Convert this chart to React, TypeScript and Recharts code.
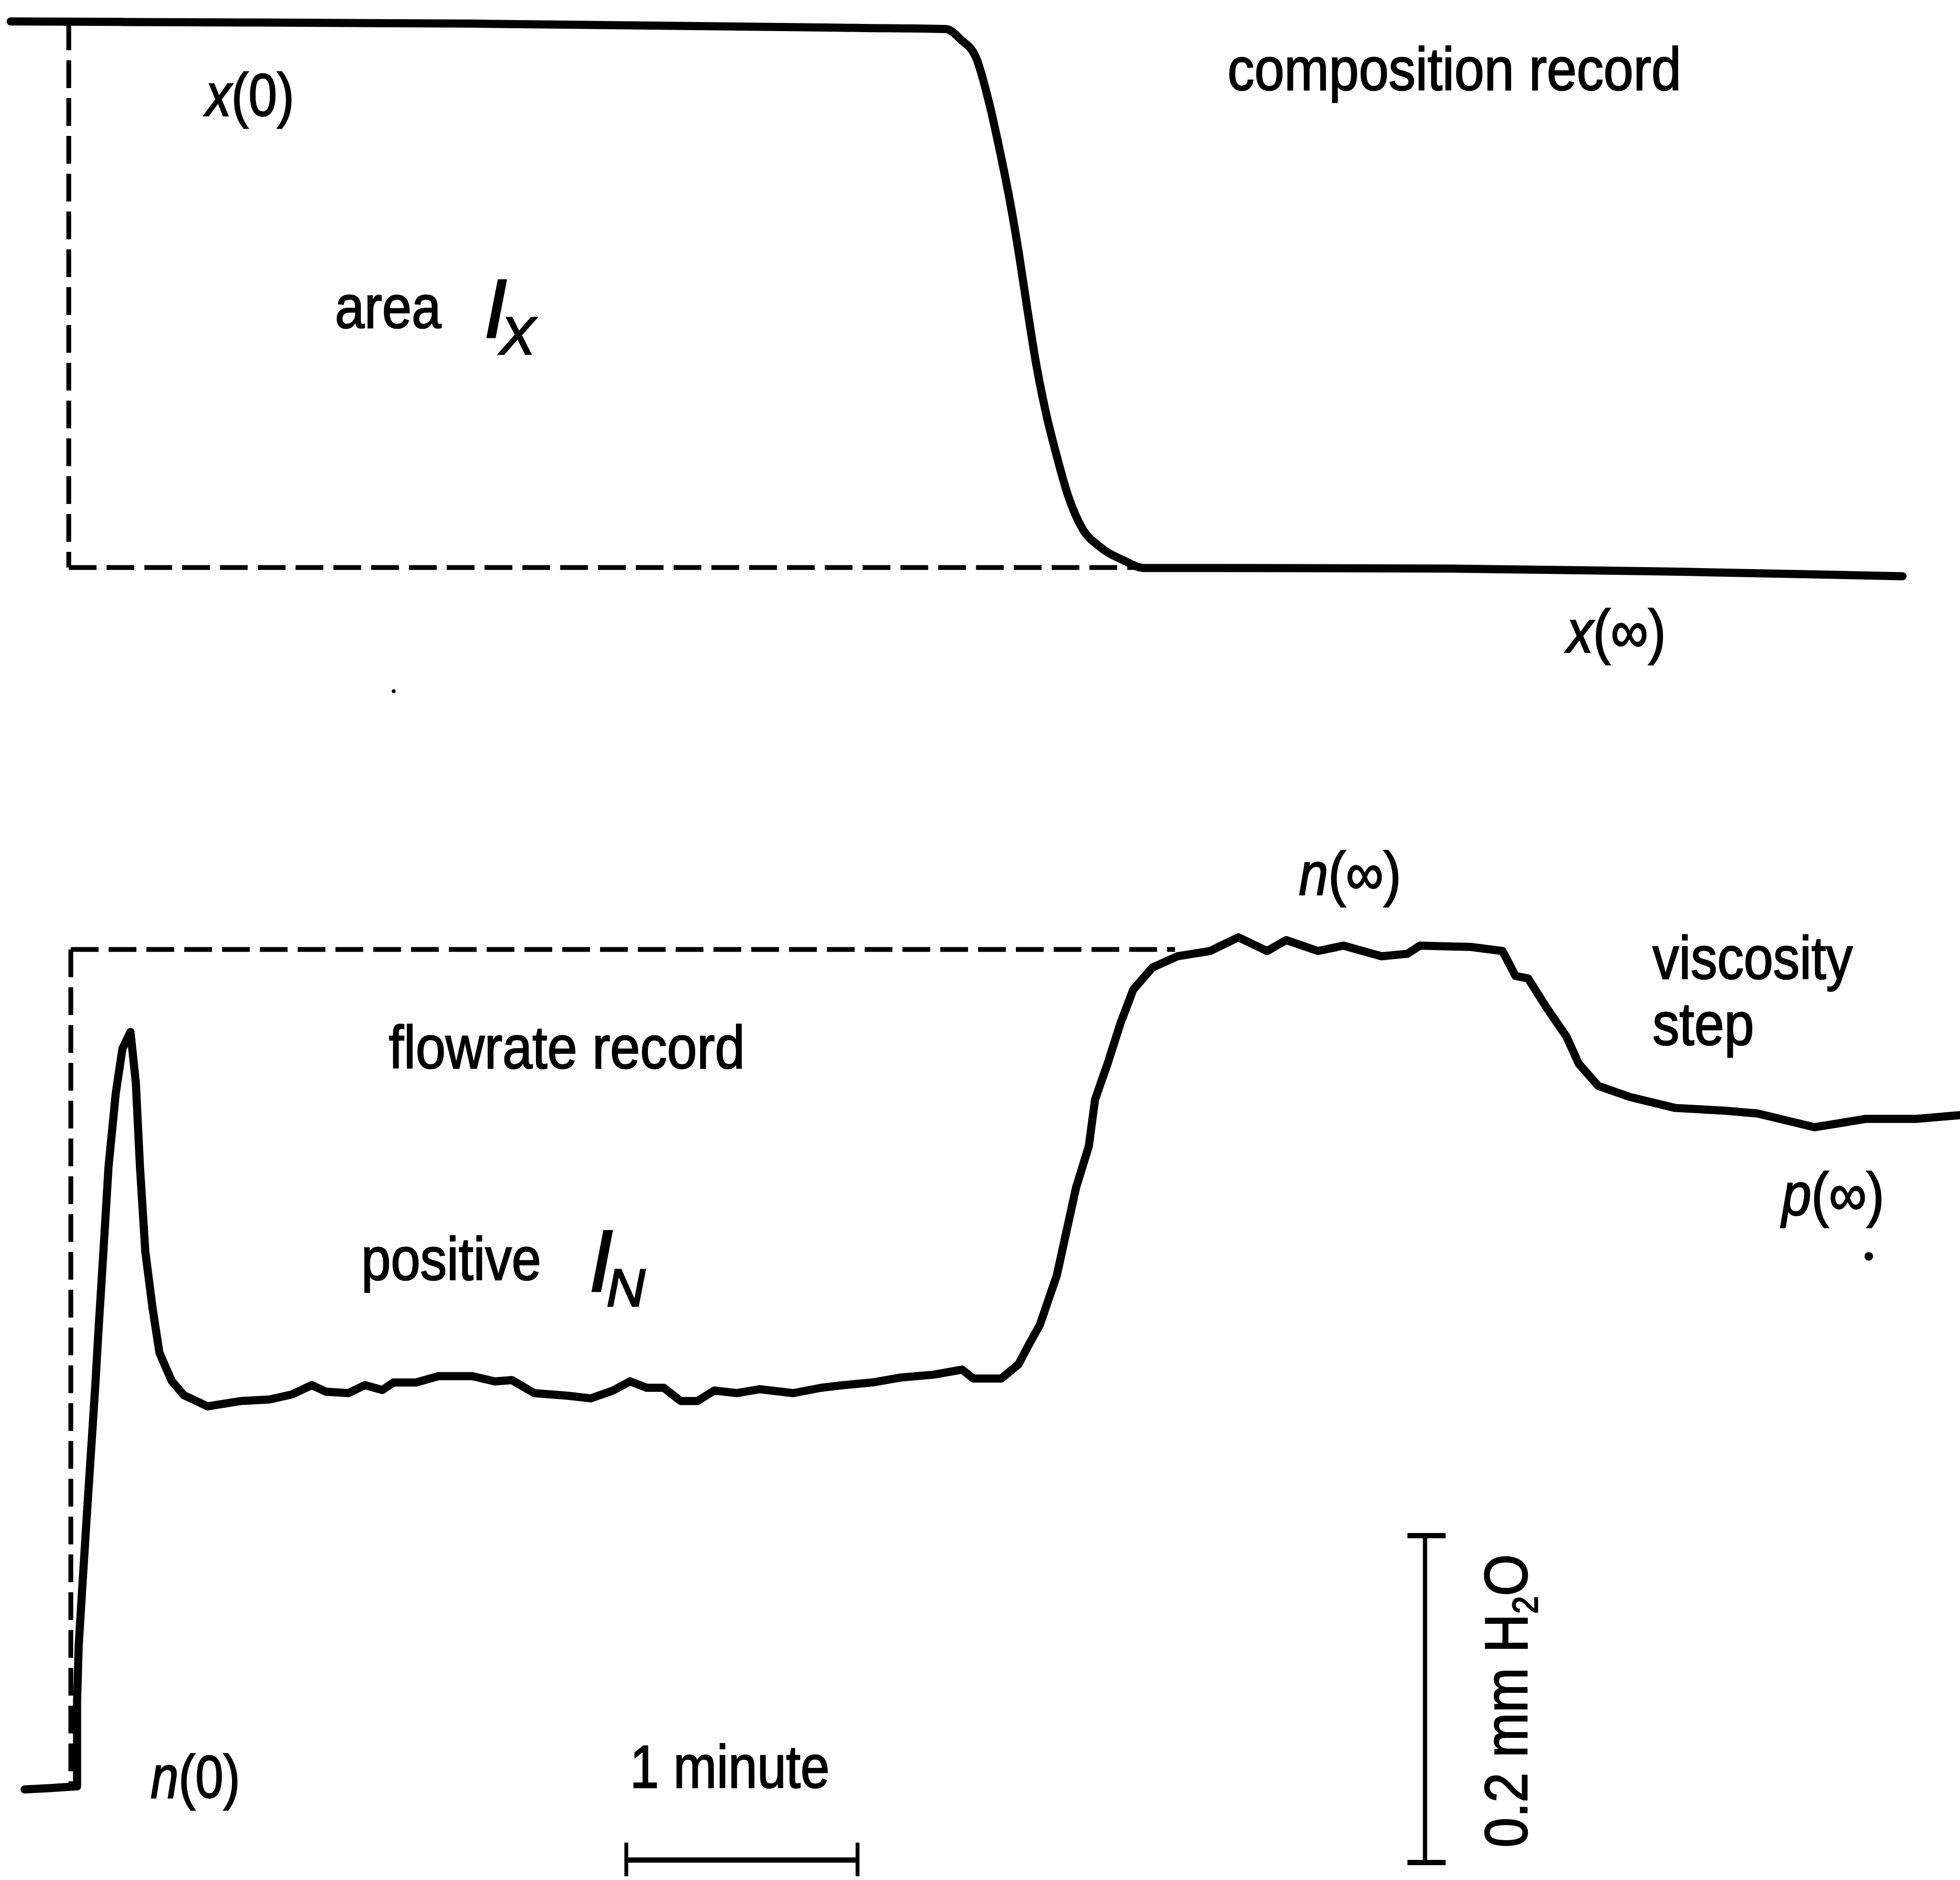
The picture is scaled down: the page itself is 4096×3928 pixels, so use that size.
import { LineChart, Line, XAxis, YAxis, ReferenceLine, ReferenceDot } from "recharts";

// time axis in minutes from the start of the step
// composition record normalised: x(0) = 1, x(inf) = 0
const compTime = [
  -0.251, 0.243, 1.739, 3.432, 3.795, 3.827, 3.854, 3.924, 3.978, 4.03, 4.07, 4.108, 4.146,
  4.184, 4.224, 4.274, 4.322, 4.381, 4.459, 4.557, 4.653, 4.962, 5.981, 7.0, 7.93,
];
const compValue = [
  1.002, 1.001, 0.998, 0.99, 0.988, 0.981, 0.97, 0.935, 0.856, 0.757, 0.672, 0.578, 0.472,
  0.372, 0.287, 0.202, 0.131, 0.073, 0.038, 0.014, -0.001, -0.001, -0.002, -0.008, -0.016,
];

// flowrate record, mm H2O above the starting level
const flowTime = [
  -0.191, -0.081, 0.036, 0.036, 0.043, 0.058, 0.081, 0.097, 0.116, 0.127, 0.15, 0.172,
  0.203, 0.232, 0.267, 0.29, 0.308, 0.331, 0.362, 0.392, 0.445, 0.497, 0.6, 0.746,
  0.868, 0.965, 1.051, 1.112, 1.209, 1.281, 1.356, 1.404, 1.502, 1.599, 1.745, 1.842,
  1.916, 2.013, 2.159, 2.257, 2.354, 2.427, 2.499, 2.573, 2.646, 2.719, 2.792, 2.89,
  2.987, 3.133, 3.254, 3.351, 3.474, 3.595, 3.741, 3.863, 3.912, 4.032, 4.107, 4.155,
  4.199, 4.273, 4.356, 4.411, 4.438, 4.492, 4.549, 4.603, 4.686, 4.795, 4.935, 5.058,
  5.182, 5.265, 5.402, 5.512, 5.677, 5.788, 5.843, 6.063, 6.2, 6.256, 6.311, 6.394,
  6.476, 6.53, 6.614, 6.751, 6.946, 7.165, 7.303, 7.55, 7.77, 7.989, 8.178,
];
const flowValue = [
  -0.0004, 0.0004, 0.0015, 0.0535, 0.0876, 0.1221, 0.1736, 0.208, 0.2496, 0.2769, 0.3289, 0.3805,
  0.4252, 0.4528, 0.4631, 0.4321, 0.3805, 0.3289, 0.2945, 0.2669, 0.2496, 0.2409, 0.234, 0.2373,
  0.2382, 0.2413, 0.247, 0.243, 0.2421, 0.247, 0.244, 0.2486, 0.2486, 0.2525, 0.2525, 0.2493,
  0.2501, 0.2421, 0.2405, 0.2389, 0.2437, 0.2493, 0.2454, 0.2454, 0.2373, 0.2373, 0.2437, 0.2421,
  0.2445, 0.2421, 0.2454, 0.247, 0.2486, 0.2516, 0.2534, 0.2565, 0.251, 0.251, 0.2597, 0.2726,
  0.2837, 0.3143, 0.3679, 0.3931, 0.4217, 0.4436, 0.4688, 0.4889, 0.5025, 0.5094, 0.5126, 0.521,
  0.5126, 0.5193, 0.5126, 0.5159, 0.5094, 0.5109, 0.5159, 0.5151, 0.5126, 0.4974, 0.4958, 0.4772,
  0.4604, 0.4436, 0.4301, 0.4233, 0.4166, 0.4149, 0.4132, 0.4048, 0.4099, 0.4099, 0.4122,
];

// reference levels of the two dashed boxes
const compBoxEnd = 4.62;
const flowBoxStart = 0.009;
const flowBoxLevel = 0.5136;
const flowBoxEnd = 4.784;

// scale bars: 1 minute and 0.2 mm H2O
const minuteBar = [2.411, 3.411];
const minuteBarLevel = -0.0436;
const minuteTicks = [-0.0329, -0.0535];
const pressureBarTime = 5.865;
const pressureBar = [-0.0451, 0.1549];
const pressureCaps = [5.789, 5.954];

const compWords = [
  { text: "area", t: 1.151, v: 0.44 },
  { text: "composition record", t: 5.011, v: 0.876 },
];
const compSymbols = [
  { sym: "x", arg: "0", t: 0.592, v: 0.829 },
  { sym: "x", arg: "∞", t: 6.478, v: -0.156 },
];
const compIntegral = { sym: "I", sub: "X", t: 1.795, v: 0.422 };
const compSpecks = [{ t: 1.405, v: -0.227 }];

const flowWords = [
  { text: "flowrate record", t: 1.384, v: 0.4408 },
  { text: "positive", t: 1.265, v: 0.3115 },
  { text: "viscosity", t: 6.849, v: 0.4956 },
  { text: "step", t: 6.849, v: 0.4553 },
  { text: "1 minute", t: 2.427, v: 0.0008 },
];
const flowSymbols = [
  { sym: "n", arg: "0", t: 0.354, v: -0.0054 },
  { sym: "n", arg: "∞", t: 5.319, v: 0.5471 },
  { sym: "p", arg: "∞", t: 7.408, v: 0.3511 },
];
const flowIntegral = { sym: "I", sub: "N", t: 2.249, v: 0.3044 };
const flowSpecks = [{ t: 7.784, v: 0.3258 }];
const pressureLabel = { t: 6.305, v: 0.0538 };

const compData = compTime.map((t, i) => ({ t, c: compValue[i] }));
const flowData = flowTime.map((t, i) => ({ t, p: flowValue[i] }));

const W = 4096;
const H = 3928;
const FONT = '"Liberation Sans", Arial, Helvetica, sans-serif';
const TEXT_SIZE = 126;
const TEXT_STROKE = 2.5;
const LINE_W = 17;
const DASH_W = 10;
const DASH = "58 21";

const textWidth: Record<string, number> = {
  area: 222,
  "composition record": 948,
  "flowrate record": 744,
  positive: 376,
  viscosity: 418,
  step: 212,
  "1 minute": 417,
  "x(0)": 185,
  "x(∞)": 207,
  "n(0)": 187,
  "n(∞)": 214,
  "p(∞)": 214,
};

const wordShape = (text: string) => (props: any) => (
  <text
    x={props.cx}
    y={props.cy}
    fontFamily={FONT}
    fontSize={TEXT_SIZE}
    fill="#000"
    stroke="#000"
    strokeWidth={TEXT_STROKE}
    textLength={textWidth[text]}
    lengthAdjust="spacingAndGlyphs"
  >
    {text}
  </text>
);

const symbolShape = (sym: string, arg: string) => (props: any) => (
  <text
    x={props.cx}
    y={props.cy}
    fontFamily={FONT}
    fontSize={TEXT_SIZE}
    fill="#000"
    stroke="#000"
    strokeWidth={TEXT_STROKE}
    textLength={textWidth[`${sym}(${arg})`]}
    lengthAdjust="spacingAndGlyphs"
  >
    <tspan fontStyle="italic">{sym}</tspan>({arg})
  </text>
);

const integralShape = (sym: string, sub: string, big: number, dx: number, dy: number) => (props: any) => (
  <text x={props.cx} y={props.cy} fontFamily={FONT} fill="#000" stroke="#000" strokeWidth={3} fontStyle="italic">
    <tspan fontSize={big}>{sym}</tspan>
    <tspan fontSize={112} dx={dx} dy={dy}>
      {sub}
    </tspan>
  </text>
);

const pressureShape = (props: any) => (
  <text
    x={props.cx}
    y={props.cy}
    transform={`rotate(-90 ${props.cx} ${props.cy})`}
    textAnchor="middle"
    fontFamily={FONT}
    fontSize={TEXT_SIZE}
    fill="#000"
    stroke="#000"
    strokeWidth={TEXT_STROKE}
    textLength={613}
    lengthAdjust="spacingAndGlyphs"
  >
    0.2 mm H
    <tspan fontSize={74} dy={22}>
      2
    </tspan>
    <tspan dy={-22}>O</tspan>
  </text>
);

const App = () => {
  return (
    <div style={{ width: W, height: H, background: "#fff" }}>
      <style>{"body{margin:0;background:#fff}"}</style>
      <LineChart width={W} height={H} margin={{ top: 0, right: 0, bottom: 0, left: 0 }}>
        <XAxis type="number" dataKey="t" domain={[-0.2973, 8.1784]} hide allowDataOverflow />
        <YAxis yAxisId="comp" type="number" domain={[-2.4083, 1.0413]} hide allowDataOverflow />
        <YAxis yAxisId="flow" type="number" domain={[-0.0558, 1.0945]} hide allowDataOverflow />

        {/* dashed box of the composition record */}
        <ReferenceLine yAxisId="comp" segment={[{ x: 0, y: 1 }, { x: 0, y: 0 }]} stroke="#000" strokeWidth={DASH_W} strokeDasharray={DASH} />
        <ReferenceLine yAxisId="comp" segment={[{ x: 0, y: 0 }, { x: compBoxEnd, y: 0 }]} stroke="#000" strokeWidth={DASH_W} strokeDasharray={DASH} />

        {/* dashed box of the flowrate record */}
        <ReferenceLine yAxisId="flow" segment={[{ x: flowBoxStart, y: flowBoxLevel }, { x: flowBoxStart, y: 0 }]} stroke="#000" strokeWidth={DASH_W} strokeDasharray={DASH} />
        <ReferenceLine yAxisId="flow" segment={[{ x: flowBoxStart, y: flowBoxLevel }, { x: flowBoxEnd, y: flowBoxLevel }]} stroke="#000" strokeWidth={DASH_W} strokeDasharray={DASH} />

        {/* scale bars */}
        <ReferenceLine yAxisId="flow" segment={[{ x: minuteBar[0], y: minuteBarLevel }, { x: minuteBar[1], y: minuteBarLevel }]} stroke="#000" strokeWidth={11} />
        {minuteBar.map((t) => (
          <ReferenceLine key={`mt${t}`} yAxisId="flow" segment={[{ x: t, y: minuteTicks[0] }, { x: t, y: minuteTicks[1] }]} stroke="#000" strokeWidth={8} />
        ))}
        <ReferenceLine yAxisId="flow" segment={[{ x: pressureBarTime, y: pressureBar[0] }, { x: pressureBarTime, y: pressureBar[1] }]} stroke="#000" strokeWidth={9} />
        {pressureBar.map((v) => (
          <ReferenceLine key={`pc${v}`} yAxisId="flow" segment={[{ x: pressureCaps[0], y: v }, { x: pressureCaps[1], y: v }]} stroke="#000" strokeWidth={11} />
        ))}

        <Line
          yAxisId="comp"
          data={compData}
          dataKey="c"
          type="monotone"
          stroke="#000"
          strokeWidth={LINE_W}
          strokeLinecap="round"
          strokeLinejoin="round"
          dot={false}
          activeDot={false}
          isAnimationActive={false}
        />
        <Line
          yAxisId="flow"
          data={flowData}
          dataKey="p"
          type="linear"
          stroke="#000"
          strokeWidth={LINE_W}
          strokeLinecap="round"
          strokeLinejoin="round"
          dot={false}
          activeDot={false}
          isAnimationActive={false}
        />

        {compWords.map((w) => (
          <ReferenceDot key={w.text} yAxisId="comp" x={w.t} y={w.v} shape={wordShape(w.text)} />
        ))}
        {compSymbols.map((s) => (
          <ReferenceDot key={s.sym + s.arg} yAxisId="comp" x={s.t} y={s.v} shape={symbolShape(s.sym, s.arg)} />
        ))}
        <ReferenceDot yAxisId="comp" x={compIntegral.t} y={compIntegral.v} shape={integralShape(compIntegral.sym, compIntegral.sub, 175, -16, 35)} />
        {compSpecks.map((d, i) => (
          <ReferenceDot key={`cs${i}`} yAxisId="comp" x={d.t} y={d.v} r={4} fill="#000" stroke="none" />
        ))}

        {flowWords.map((w) => (
          <ReferenceDot key={w.text} yAxisId="flow" x={w.t} y={w.v} shape={wordShape(w.text)} />
        ))}
        {flowSymbols.map((s) => (
          <ReferenceDot key={s.sym + s.arg} yAxisId="flow" x={s.t} y={s.v} shape={symbolShape(s.sym, s.arg)} />
        ))}
        <ReferenceDot yAxisId="flow" x={flowIntegral.t} y={flowIntegral.v} shape={integralShape(flowIntegral.sym, flowIntegral.sub, 183, -14, 31)} />
        {flowSpecks.map((d, i) => (
          <ReferenceDot key={`fs${i}`} yAxisId="flow" x={d.t} y={d.v} r={9} fill="#000" stroke="none" />
        ))}
        <ReferenceDot yAxisId="flow" x={pressureLabel.t} y={pressureLabel.v} shape={pressureShape} />
      </LineChart>
    </div>
  );
};

export default App;
